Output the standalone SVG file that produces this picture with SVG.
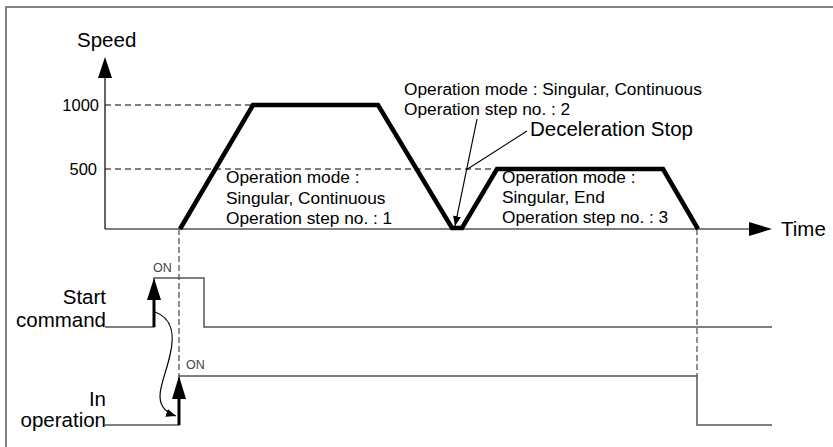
<svg xmlns="http://www.w3.org/2000/svg" width="833" height="447" viewBox="0 0 833 447">
<style>
text{font-family:"Liberation Sans",Arial,sans-serif;fill:#000}
.big{font-size:20.5px}
.mid{font-size:17.3px}
.ax{font-size:16.5px}
.on{font-size:12.5px;fill:#444}
.thin{stroke:#000;stroke-width:1.2;fill:none}
.dash{stroke:#000;stroke-width:1.1;stroke-dasharray:6 4;fill:none}
.vdash{stroke:#555;stroke-width:1.3;stroke-dasharray:6 3;fill:none}
.sig{stroke:#555;stroke-width:1.5;fill:none}
.prof{stroke:#000;stroke-width:4.5;fill:none;stroke-linejoin:miter}
</style>
<defs>
<marker id="tri" viewBox="0 0 10 10" refX="10" refY="5" markerWidth="10" markerHeight="10" markerUnits="userSpaceOnUse" orient="auto"><path d="M0,1 L10,5 L0,9 Z" fill="#000"/></marker>
</defs>
<rect x="6" y="7" width="900" height="500" fill="none" stroke="#666" stroke-width="1.6"/>
<g id="axes">
<line x1="105" y1="229" x2="105" y2="76" stroke="#000" stroke-width="1.2"/>
<polygon points="105,57 98,78 112,78" fill="#000"/>
<line x1="105" y1="229" x2="752" y2="229" stroke="#000" stroke-width="1.2"/>
<polygon points="772,229 749,222 749,236" fill="#000"/>
<text class="big" x="77" y="47">Speed</text>
<text class="big" x="781" y="236">Time</text>
<text class="ax" x="99" y="111" text-anchor="end">1000</text>
<text class="ax" x="97" y="175" text-anchor="end">500</text>
</g>
<g id="connectors">
<line class="dash" x1="105" y1="105" x2="253" y2="105"/>
<line class="dash" x1="105" y1="169" x2="497" y2="169"/>
<line class="vdash" x1="179" y1="229" x2="179" y2="376"/>
<line class="vdash" x1="697" y1="229" x2="697" y2="376"/>
<line class="thin" x1="477" y1="119" x2="455" y2="226" marker-end="url(#tri)"/>
<line class="thin" x1="527" y1="131" x2="466" y2="170"/>
<path class="thin" d="M155,312 C172,318 175,335 170,355 C165,378 155,395 163,407 C166,412 170,414 176,416" marker-end="url(#tri)"/>
</g>
<g id="profile">
<polyline class="prof" points="180,229 253,105 378,105 452,228 462,228 497,169 663,169 698,229"/>
</g>
<g id="label-step1">
<text class="mid" x="226" y="183">Operation mode :</text>
<text class="mid" x="226" y="204">Singular, Continuous</text>
<text class="mid" x="226" y="224">Operation step no. : 1</text>
</g>
<g id="label-step2">
<text class="mid" x="404" y="95">Operation mode : Singular, Continuous</text>
<text class="mid" x="404" y="115">Operation step no. : 2</text>
<text class="big" x="530" y="136">Deceleration Stop</text>
</g>
<g id="label-step3">
<text class="mid" x="502" y="183">Operation mode :</text>
<text class="mid" x="502" y="203">Singular, End</text>
<text class="mid" x="502" y="223">Operation step no. : 3</text>
</g>
<g id="start-command">
<text class="big" x="106" y="304" text-anchor="end">Start</text>
<text class="big" x="106" y="327" text-anchor="end">command</text>
<polyline class="sig" points="105,327 154,327 154,278 204,278 204,327 772,327"/>
<line x1="154" y1="327" x2="154" y2="298" stroke="#000" stroke-width="3"/>
<polygon points="154,278 147,300 161,300" fill="#000"/>
<text class="on" x="153" y="272">ON</text>
</g>
<g id="in-operation">
<text class="big" x="106" y="406" text-anchor="end">In</text>
<text class="big" x="106" y="427" text-anchor="end">operation</text>
<polyline class="sig" points="105,425 179,425 179,376 697,376 697,425 772,425"/>
<line x1="179" y1="425" x2="179" y2="397" stroke="#000" stroke-width="3"/>
<polygon points="179,376 172,399 186,399" fill="#000"/>
<text class="on" x="186" y="369">ON</text>
</g>
</svg>
